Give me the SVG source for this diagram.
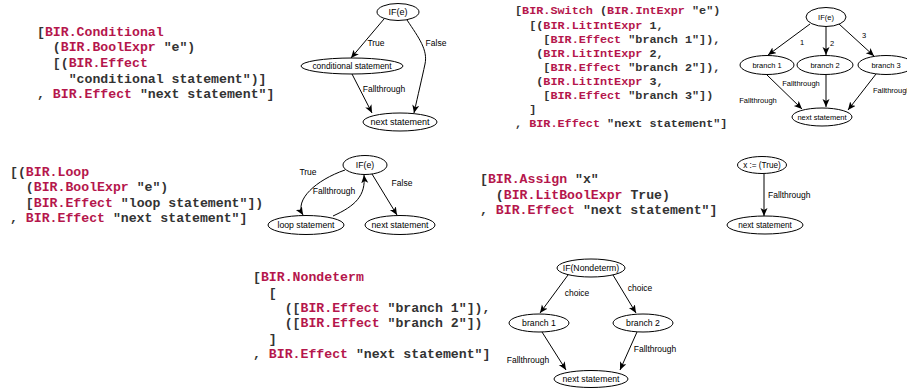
<svg xmlns="http://www.w3.org/2000/svg" width="907" height="389" viewBox="0 0 907 389">
<style>
.code{font-family:"Liberation Mono","Courier New",monospace;font-weight:bold;fill:#333;white-space:pre}
.c1{font-size:13.2px}
.c2{font-size:11.8px}
.k{fill:#b5164c}
.n{fill:#fff;stroke:#000;stroke-width:1}
.t{font-family:"Liberation Sans",Arial,sans-serif;fill:#000;text-anchor:middle}
.lb{font-family:"Liberation Sans",Arial,sans-serif;fill:#000}
.e{fill:none;stroke:#000;stroke-width:1;marker-end:url(#arr)}
</style>
<defs>
<marker id="arr" markerUnits="userSpaceOnUse" markerWidth="10" markerHeight="8" refX="8" refY="3.5" orient="auto">
<path d="M0,0 L8,3.5 L0,7 L2,3.5 z" fill="#000"/>
</marker>
</defs>

<!-- code blocks -->
<g id="code-conditional" class="code c1">
<text x="37" y="36" xml:space="preserve">[<tspan class="k">BIR.Conditional</tspan></text>
<text x="37" y="51" xml:space="preserve">  (<tspan class="k">BIR.BoolExpr</tspan> "e")</text>
<text x="37" y="67" xml:space="preserve">  [(<tspan class="k">BIR.Effect</tspan></text>
<text x="37" y="83" xml:space="preserve">    "conditional statement")]</text>
<text x="37" y="98" xml:space="preserve">, <tspan class="k">BIR.Effect</tspan> "next statement"]</text>
</g>
<g id="code-switch" class="code c2">
<text x="515" y="14" xml:space="preserve">[<tspan class="k">BIR.Switch</tspan> (<tspan class="k">BIR.IntExpr</tspan> "e")</text>
<text x="515" y="28.5" xml:space="preserve">  [(<tspan class="k">BIR.LitIntExpr</tspan> 1,</text>
<text x="515" y="42.5" xml:space="preserve">    [<tspan class="k">BIR.Effect</tspan> "branch 1"]),</text>
<text x="515" y="56.5" xml:space="preserve">   (<tspan class="k">BIR.LitIntExpr</tspan> 2,</text>
<text x="515" y="70.5" xml:space="preserve">    [<tspan class="k">BIR.Effect</tspan> "branch 2"]),</text>
<text x="515" y="84.5" xml:space="preserve">   (<tspan class="k">BIR.LitIntExpr</tspan> 3,</text>
<text x="515" y="98.5" xml:space="preserve">    [<tspan class="k">BIR.Effect</tspan> "branch 3"])</text>
<text x="515" y="112.5" xml:space="preserve">  ]</text>
<text x="515" y="126.5" xml:space="preserve">, <tspan class="k">BIR.Effect</tspan> "next statement"]</text>
</g>
<g id="code-loop" class="code c1">
<text x="10" y="175.5" xml:space="preserve">[(<tspan class="k">BIR.Loop</tspan></text>
<text x="10" y="191" xml:space="preserve">  (<tspan class="k">BIR.BoolExpr</tspan> "e")</text>
<text x="10" y="206.5" xml:space="preserve">  [<tspan class="k">BIR.Effect</tspan> "loop statement"])</text>
<text x="10" y="222" xml:space="preserve">, <tspan class="k">BIR.Effect</tspan> "next statement"]</text>
</g>
<g id="code-assign" class="code c1">
<text x="480" y="183" xml:space="preserve">[<tspan class="k">BIR.Assign</tspan> "x"</text>
<text x="480" y="198.5" xml:space="preserve">  (<tspan class="k">BIR.LitBoolExpr</tspan> True)</text>
<text x="480" y="214" xml:space="preserve">, <tspan class="k">BIR.Effect</tspan> "next statement"]</text>
</g>
<g id="code-nondeterm" class="code c1">
<text x="253" y="281" xml:space="preserve">[<tspan class="k">BIR.Nondeterm</tspan></text>
<text x="253" y="296.5" xml:space="preserve">  [</text>
<text x="253" y="311.5" xml:space="preserve">    ([<tspan class="k">BIR.Effect</tspan> "branch 1"]),</text>
<text x="253" y="327" xml:space="preserve">    ([<tspan class="k">BIR.Effect</tspan> "branch 2"])</text>
<text x="253" y="342.5" xml:space="preserve">  ]</text>
<text x="253" y="358" xml:space="preserve">, <tspan class="k">BIR.Effect</tspan> "next statement"]</text>
</g>

<!-- connectors -->
<g id="connectors">
<!-- graph 1 -->
<path class="e" d="M384,19 L351,58"/>
<path class="e" d="M407,20 C419,38 428,50 425,64 S418,95 414,113"/>
<path class="e" d="M352,74 L372,113"/>
<!-- graph 2 -->
<path class="e" d="M810,24 L768,55"/>
<path class="e" d="M826,27 L826,55"/>
<path class="e" d="M839,24 L874,56"/>
<path class="e" d="M767,75 L802,109"/>
<path class="e" d="M826,75 L826,107"/>
<path class="e" d="M876,74 L848,110"/>
<!-- graph 3 -->
<path class="e" d="M345,170 C316,180 294,200 303,215"/>
<path class="e" d="M333,216 C355,206 366,196 364,175"/>
<path class="e" d="M372,174 L397,215"/>
<!-- graph 4 -->
<path class="e" d="M764,174 L764,216"/>
<!-- graph 5 -->
<path class="e" d="M568,275 L540,313"/>
<path class="e" d="M613,275 L636,313"/>
<path class="e" d="M542,332 L566,370"/>
<path class="e" d="M637,332 L620,370"/>
</g>

<!-- edge labels -->
<g id="edge-labels" font-size="8.5">
<text class="t" x="376" y="46">True</text>
<text class="t" x="436" y="46">False</text>
<text class="t" x="384" y="92">Fallthrough</text>
<text class="t" x="802" y="45" font-size="7.5">1</text>
<text class="t" x="832" y="46" font-size="7.5">2</text>
<text class="t" x="864" y="38" font-size="7.5">3</text>
<text class="t" x="758" y="103" font-size="7.5">Fallthrough</text>
<text class="t" x="801" y="86" font-size="7.5">Fallthrough</text>
<text class="lb" x="873" y="93" font-size="7.5">Fallthrough</text>
<text class="t" x="308" y="175">True</text>
<text class="t" x="334" y="194">Fallthrough</text>
<text class="t" x="402" y="186">False</text>
<text class="lb" x="768" y="198">Fallthrough</text>
<text class="t" x="577" y="296">choice</text>
<text class="t" x="640" y="291">choice</text>
<text class="t" x="528" y="363">Fallthrough</text>
<text class="t" x="655" y="352">Fallthrough</text>
</g>

<!-- graph 1 nodes -->
<g id="g1-if"><ellipse class="n" cx="398" cy="12" rx="21" ry="8.5"/><text class="t" x="398" y="15" font-size="9">IF(e)</text></g>
<g id="g1-cond"><ellipse class="n" cx="352" cy="66" rx="51" ry="8"/><text class="t" x="352" y="69" font-size="8.4">conditional statement</text></g>
<g id="g1-next"><ellipse class="n" cx="400" cy="122" rx="37" ry="9"/><text class="t" x="400" y="125" font-size="9">next statement</text></g>

<!-- graph 2 nodes -->
<g id="g2-if"><ellipse class="n" cx="826" cy="17" rx="20" ry="9.5"/><text class="t" x="826" y="20" font-size="7.5">IF(e)</text></g>
<g id="g2-b1"><ellipse class="n" cx="767" cy="65" rx="27" ry="9.5"/><text class="t" x="767" y="68" font-size="7.5">branch 1</text></g>
<g id="g2-b2"><ellipse class="n" cx="825" cy="65" rx="28" ry="9.5"/><text class="t" x="825" y="68" font-size="7.5">branch 2</text></g>
<g id="g2-b3"><ellipse class="n" cx="886" cy="65" rx="28" ry="9.5"/><text class="t" x="886" y="68" font-size="7.5">branch 3</text></g>
<g id="g2-next"><ellipse class="n" cx="822" cy="117" rx="30" ry="9"/><text class="t" x="822" y="120" font-size="7.5">next statement</text></g>

<!-- graph 3 nodes -->
<g id="g3-if"><ellipse class="n" cx="365" cy="165" rx="22" ry="9.5"/><text class="t" x="365" y="168" font-size="8.7">IF(e)</text></g>
<g id="g3-loop"><ellipse class="n" cx="306" cy="225" rx="38" ry="9.5"/><text class="t" x="306" y="228" font-size="8.7">loop statement</text></g>
<g id="g3-next"><ellipse class="n" cx="400" cy="225" rx="35" ry="9.5"/><text class="t" x="400" y="228" font-size="8.7">next statement</text></g>

<!-- graph 4 nodes -->
<g id="g4-assign"><ellipse class="n" cx="762" cy="165" rx="24.5" ry="8.5"/><text class="t" x="762" y="168" font-size="8.2">x := (True)</text></g>
<g id="g4-next"><ellipse class="n" cx="765" cy="225" rx="38" ry="9"/><text class="t" x="765" y="228" font-size="8.2">next statement</text></g>

<!-- graph 5 nodes -->
<g id="g5-if"><ellipse class="n" cx="591" cy="268" rx="34" ry="9"/><text class="t" x="591" y="271" font-size="8.7">IF(Nondeterm)</text></g>
<g id="g5-b1"><ellipse class="n" cx="539" cy="323" rx="30" ry="9"/><text class="t" x="539" y="326" font-size="8.7">branch 1</text></g>
<g id="g5-b2"><ellipse class="n" cx="643" cy="323" rx="30" ry="9"/><text class="t" x="643" y="326" font-size="8.7">branch 2</text></g>
<g id="g5-next"><ellipse class="n" cx="591" cy="379" rx="37" ry="8.5"/><text class="t" x="591" y="382" font-size="8.7">next statement</text></g>
</svg>
